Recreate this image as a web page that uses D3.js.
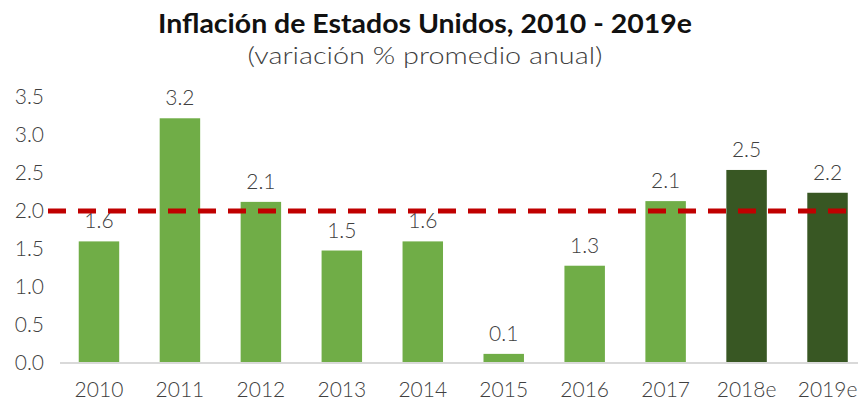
<!DOCTYPE html>
<html>
<head>
<meta charset="utf-8">
<script src="https://cdn.jsdelivr.net/npm/d3@7"></script>
<style>
  body { margin: 0; background: #fff; }
  text { font-family: Lato, "Open Sans", sans-serif; }
</style>
</head>
<body>
<svg width="858" height="402"></svg>
<script>
const years = ["2010", "2011", "2012", "2013", "2014", "2015", "2016", "2017", "2018e", "2019e"];
const inflation = [1.6, 3.22, 2.12, 1.48, 1.6, 0.12, 1.28, 2.13, 2.54, 2.24];
const estimated = [false, false, false, false, false, false, false, false, true, true];
const yTicks = [0, 0.5, 1, 1.5, 2, 2.5, 3, 3.5];
const target = 2.0;

const svg = d3.select("svg"),
	width = +svg.attr("width"),
	height = +svg.attr("height");

const x = d3.scaleBand()
	.domain(years)
	.range([58.5, 868])
	.paddingInner(0.5)
	.paddingOuter(0.25);

const y = d3.scaleLinear()
	.domain([0, 3.5])
	.range([363, 97]);

// titulo
svg.append("text")
	.attr("x", 425).attr("y", 33)
	.attr("text-anchor", "middle")
	.style("font-size", "26px")
	.style("font-weight", "bold")
	.style("fill", "#111")
	.attr("textLength", 534)
	.attr("lengthAdjust", "spacingAndGlyphs")
	.text("Inflación de Estados Unidos, 2010 - 2019e");

svg.append("text")
	.attr("x", 425).attr("y", 64)
	.attr("text-anchor", "middle")
	.style("font-size", "23px")
	.style("font-weight", 300)
	.style("fill", "#404040")
	.attr("textLength", 355)
	.attr("lengthAdjust", "spacingAndGlyphs")
	.text("(variación % promedio anual)");

// eje y
const yAxis = svg.append("g")
	.attr("transform", "translate(44,0)")
	.call(d3.axisLeft(y).tickValues(yTicks).tickFormat(d3.format(".1f")).tickSize(0).tickPadding(0));
yAxis.select(".domain").remove();
yAxis.selectAll("text")
	.style("font-size", "21px")
	.style("font-family", "Lato, sans-serif")
	.style("font-weight", 300)
	.style("fill", "#404040");

// barras
svg.append("g").selectAll("rect")
	.data(years)
	.enter().append("rect")
	.attr("x", d => x(d))
	.attr("width", x.bandwidth())
	.attr("y", (d, i) => y(inflation[i]))
	.attr("height", (d, i) => y(0) - y(inflation[i]))
	.attr("fill", (d, i) => estimated[i] ? "#385723" : "#70AD47");

// linea base
svg.append("line")
	.attr("x1", 60).attr("x2", width)
	.attr("y1", y(0)).attr("y2", y(0))
	.style("stroke", "#d9d9d9")
	.style("stroke-width", 2);

// eje x
const xAxis = svg.append("g")
	.attr("transform", "translate(0," + y(0) + ")")
	.call(d3.axisBottom(x).tickSize(0).tickPadding(19));
xAxis.select(".domain").remove();
xAxis.selectAll("text")
	.style("font-size", "21px")
	.style("font-family", "Lato, sans-serif")
	.style("font-weight", 300)
	.style("fill", "#404040");

// etiquetas
svg.append("g").selectAll("text")
	.data(years)
	.enter().append("text")
	.attr("x", d => x(d) + x.bandwidth() / 2)
	.attr("y", (d, i) => y(inflation[i]) - 13)
	.attr("text-anchor", "middle")
	.style("font-size", "21px")
	.style("font-weight", 300)
	.style("fill", "#404040")
	.text((d, i) => d3.format(".1f")(inflation[i]));

// meta 2%
svg.append("line")
	.attr("x1", 48).attr("x2", width)
	.attr("y1", y(target)).attr("y2", y(target))
	.style("stroke", "#C00000")
	.style("stroke-width", 5)
	.style("stroke-dasharray", "18,12");
</script>
</body>
</html>
